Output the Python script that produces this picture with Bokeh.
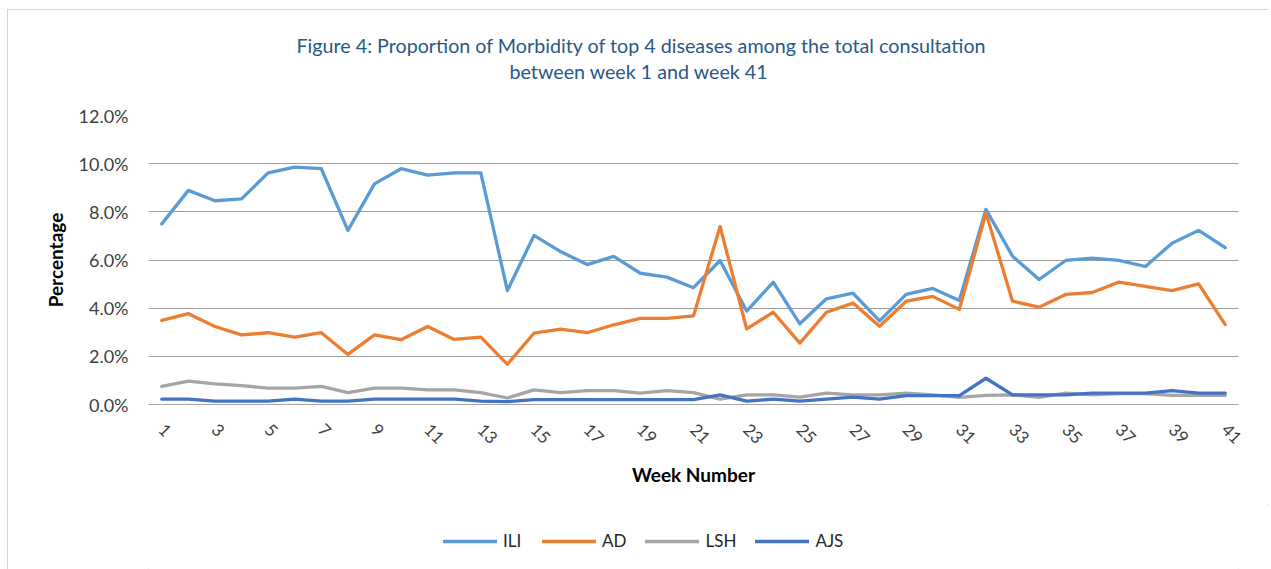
import math
from bokeh.plotting import figure
from bokeh.layouts import column
from bokeh.models import (FixedTicker, PrintfTickFormatter, Title, Legend, LegendItem,
                          Range1d)
from bokeh.embed import file_html
from bokeh.resources import INLINE

weeks = list(range(1, 42))
ILI = [7.50, 8.89, 8.46, 8.54, 9.62, 9.86, 9.79, 7.23, 9.16, 9.79, 9.52, 9.62, 9.62,
       4.73, 7.02, 6.35, 5.81, 6.15, 5.45, 5.29, 4.85, 5.98,
       3.88, 5.08, 3.35, 4.39, 4.62, 3.47, 4.57, 4.82, 4.32,
       8.10, 6.16, 5.19, 5.98, 6.08, 5.98, 5.73, 6.70, 7.23, 6.51]
AD = [3.49, 3.77, 3.24, 2.89, 2.98, 2.80, 2.98, 2.08, 2.89, 2.69, 3.24, 2.70, 2.80,
      1.67, 2.96, 3.13, 2.98, 3.31, 3.58, 3.58, 3.68, 7.39,
      3.14, 3.83, 2.55, 3.83, 4.21, 3.25, 4.29, 4.49, 3.95,
      7.95, 4.29, 4.04, 4.57, 4.65, 5.08, 4.90, 4.73, 5.01, 3.32]
LSH = [0.75, 0.97, 0.86, 0.78, 0.68, 0.68, 0.75, 0.49, 0.68, 0.68, 0.61, 0.61, 0.49,
       0.27, 0.61, 0.49, 0.58, 0.58, 0.47, 0.58, 0.49, 0.22,
       0.40, 0.40, 0.31, 0.47, 0.40, 0.40, 0.47, 0.40, 0.30,
       0.38, 0.40, 0.30, 0.47, 0.40, 0.45, 0.45, 0.38, 0.38, 0.38]
AJS = [0.22, 0.22, 0.14, 0.14, 0.14, 0.22, 0.14, 0.14, 0.22, 0.22, 0.22, 0.22, 0.14,
       0.12, 0.20, 0.20, 0.20, 0.20, 0.20, 0.20, 0.20, 0.40,
       0.14, 0.22, 0.14, 0.22, 0.31, 0.22, 0.37, 0.37, 0.37,
       1.09, 0.40, 0.40, 0.40, 0.47, 0.47, 0.47, 0.58, 0.47, 0.47]
series_names = ["ILI", "AD", "LSH", "AJS"]
series_colors = ["#5B9BD5", "#ED7D31", "#A5A5A5", "#4472C4"]
y_ticks = [0, 2, 4, 6, 8, 10, 12]
x_ticks = list(range(1, 42, 2))
title_lines = ["Figure 4: Proportion  of Morbidity of top 4 diseases among the total consultation",
               "between week 1 and week 41"]

FONT = "Lato"
W = 1261

p = figure(width=W, height=495, output_backend="svg", toolbar_location=None,
           x_range=Range1d(0.5, 41.5), y_range=Range1d(0, 12),
           min_border_left=141, min_border_right=30, min_border_top=106, min_border_bottom=100)
p.outline_line_color = None
p.background_fill_color = "white"
p.border_fill_color = "white"

for name, vals, col in zip(series_names, [ILI, AD, LSH, AJS], series_colors):
    p.line(weeks, vals, line_color=col, line_width=3.3, line_join="round", line_cap="round")

# axes
p.xaxis.ticker = FixedTicker(ticks=x_ticks)
p.xaxis.major_label_orientation = -math.pi / 4
p.xaxis.major_label_text_font = FONT
p.xaxis.major_label_text_font_size = "17px"
p.xaxis.major_label_text_color = "#404040"
p.xaxis.major_tick_line_color = None
p.xaxis.minor_tick_line_color = None
p.xaxis.axis_line_color = "#A6A6A6"
p.xaxis.major_label_standoff = 16
p.xaxis.axis_label = "Week Number"
p.xaxis.axis_label_text_font = FONT
p.xaxis.axis_label_text_font_style = "bold"
p.xaxis.axis_label_text_font_size = "19px"
p.xaxis.axis_label_text_color = "#000000"
p.xaxis.axis_label_standoff = 10

p.yaxis.ticker = FixedTicker(ticks=y_ticks)
p.yaxis.formatter = PrintfTickFormatter(format="%.1f%%")
p.yaxis.major_label_text_font = FONT
p.yaxis.major_label_text_font_size = "18px"
p.yaxis.major_label_text_color = "#404040"
p.yaxis.major_tick_line_color = None
p.yaxis.major_tick_out = 0
p.yaxis.major_tick_in = 0
p.yaxis.minor_tick_line_color = None
p.yaxis.axis_line_color = None
p.yaxis.major_label_standoff = 20
p.yaxis.axis_label = "Percentage"
p.yaxis.axis_label_text_font = FONT
p.yaxis.axis_label_text_font_style = "bold"
p.yaxis.axis_label_text_font_size = "19px"
p.yaxis.axis_label_text_color = "#000000"
p.yaxis.axis_label_standoff = 9

p.xgrid.grid_line_color = None
p.ygrid.ticker = FixedTicker(ticks=y_ticks)
p.ygrid.grid_line_color = "#9E9E9E"
p.ygrid.grid_line_width = 1

# title: spacer next to the frame, then line 2, then line 1 (panels stack outward)
p.add_layout(Title(text=" ", text_font_size="1px", standoff=30), "above")
p.add_layout(Title(text=title_lines[1], align="left", offset=361, standoff=0,
                   text_font=FONT, text_font_size="19.7px", text_font_style="normal",
                   text_color="#2A5886"), "above")
p.add_layout(Title(text=title_lines[0], align="left", offset=148, standoff=1,
                   text_font=FONT, text_font_size="19.7px", text_font_style="normal",
                   text_color="#2A5886"), "above")

# legend strip underneath
lg = figure(width=W, height=65, output_backend="svg", toolbar_location=None,
            x_range=Range1d(0, 1), y_range=Range1d(0, 1),
            min_border_left=141, min_border_right=30, min_border_top=9, min_border_bottom=0)
lg.axis.visible = False
lg.grid.visible = False
lg.outline_line_color = None
lg.border_fill_color = "white"
items = []
for name, col in zip(series_names, series_colors):
    r = lg.line([-3, -2], [-3, -3], line_color=col, line_width=3.3, line_cap="round")
    items.append(LegendItem(label=name, renderers=[r]))
legend = Legend(items=items, orientation="horizontal", location=(295, 18),
                label_text_font=FONT, label_text_font_size="17px", label_text_color="#262626",
                glyph_width=54, glyph_height=18, label_standoff=6, spacing=19,
                border_line_color=None, background_fill_alpha=0, margin=0, padding=0)
lg.add_layout(legend, "center")

layout = column(p, lg, spacing=0,
                styles={"outline": "1.5px solid #C8C8C8", "outline-offset": "-1px",
                        "margin-left": "7px", "margin-top": "9px", "background": "white"})

open("out.html", "w").write(file_html(layout, INLINE))
